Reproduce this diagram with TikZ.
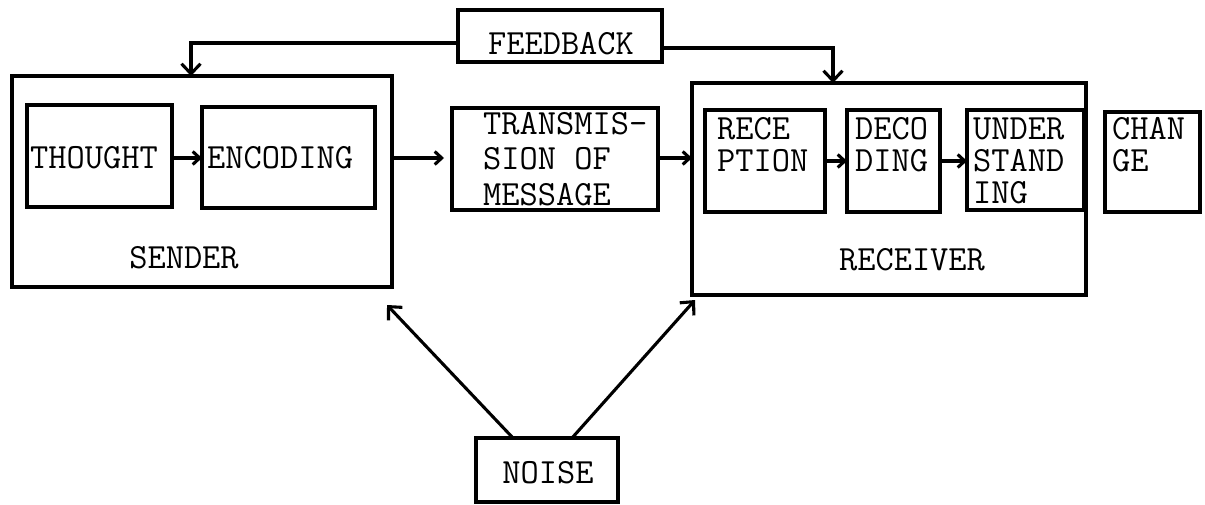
\documentclass[tikz,border=0pt]{standalone}
\usetikzlibrary{arrows.meta}
\begin{document}
\begin{tikzpicture}[x=1pt,y=-1pt,
  box/.style={draw, line width=3.1pt, inner sep=0pt, outer sep=0pt},
  txt/.style={inner sep=0pt, font=\ttfamily\fontsize{35.4}{35.5}\selectfont},
  txtb/.style={inner sep=0pt, align=left, anchor=north west, font=\ttfamily\fontsize{35.4}{32}\selectfont},
  arr/.style={line width=3.1pt, -{Straight Barb[length=7pt,width=13pt,line width=3.1pt]}},
  bigarr/.style={line width=3.1pt, -{Straight Barb[length=10pt,width=19pt,line width=3.1pt]}}]
\useasboundingbox (0,0) rectangle (1205,505);
% boxes
\node[box, minimum width=204pt, minimum height=52pt] (feedback) at (560,36) {};
\node[box, minimum width=380pt, minimum height=211pt] (sender) at (202,181.5) {};
\node[box, minimum width=145pt, minimum height=102pt] (thought) at (99.5,156) {};
\node[box, minimum width=173pt, minimum height=101pt] (encoding) at (288.5,157.5) {};
\node[box, minimum width=206pt, minimum height=102pt] (transmission) at (555,159) {};
\node[box, minimum width=394pt, minimum height=212pt] (receiver) at (889,189) {};
\node[box, minimum width=120pt, minimum height=102pt] (reception) at (765,161) {};
\node[box, minimum width=93pt, minimum height=102pt] (decoding) at (893.5,161) {};
\node[box, minimum width=117pt, minimum height=100pt] (understanding) at (1025.5,160) {};
\node[box, minimum width=95pt, minimum height=100pt] (change) at (1152.5,162) {};
\node[box, minimum width=142pt, minimum height=64pt] (noise) at (547,470) {};
% texts
\node[txt] (tfeedback) at (561,44) {FEEDBACK};
\node[txt] (tsender) at (184,258) {SENDER};
\node[txt, anchor=west] (tthought) at (30,158) {THOUGHT};
\node[txt, anchor=west] (tencoding) at (207,158) {ENCODING};
\node[txt, align=left, anchor=north west] (ttrans) at (483,112) {TRANSMIS-\\SION OF\\MESSAGE};
\node[txtb] (trecep) at (717,117.5) {RECE\\PTION};
\node[txtb] (tdecod) at (855,117.5) {DECO\\DING};
\node[txtb] (tunder) at (973,117.5) {UNDER\\STAND\\ING};
\node[txtb] (tchange) at (1112,117.5) {CHAN\\GE};
\node[txt] (treceiver) at (912,260) {RECEIVER};
\node[txt] (tnoise) at (548,473) {NOISE};
% connectors
\draw[arr] (thought.east |- tthought.east) -- (encoding.west |- tthought.east);
\draw[arr, shorten >=8pt] (sender.east |- tencoding.east) -- (transmission.west |- tencoding.east);
\draw[arr] (transmission.east |- tencoding.east) -- (receiver.west |- tencoding.east);
\draw[arr] (reception.east) -- (decoding.west);
\draw[arr] (decoding.east) -- (understanding.west |- decoding.east);
\draw[bigarr] ([yshift=-7pt]feedback.west) -| ([xshift=-11pt]sender.north);
\draw[bigarr] ([yshift=-12pt]feedback.east) -| ([xshift=-56pt]receiver.north);
\draw[bigarr] ([xshift=-34pt]noise.north) -- ([xshift=-5pt,yshift=-18pt]sender.south east);
\draw[bigarr] ([xshift=25pt]noise.north) -- ([xshift=3pt,yshift=-5pt]receiver.south west);
\end{tikzpicture}
\end{document}
